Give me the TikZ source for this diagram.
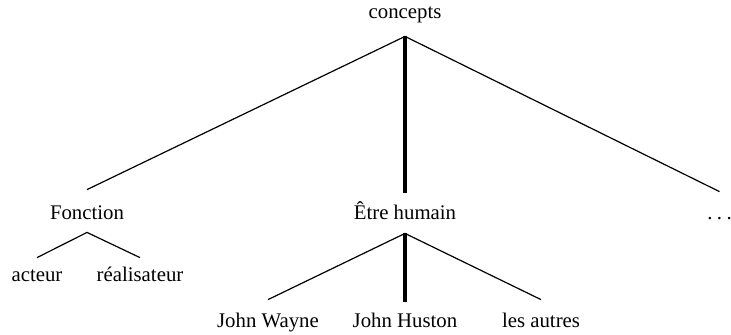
\documentclass[tikz,border=0pt]{standalone}
\usepackage{fontspec}
\setmainfont{Liberation Serif}

\begin{document}
\begin{tikzpicture}[x=.5pt,y=-.5pt,
  lbl/.style={anchor=base,inner sep=0pt,text height=7pt,text depth=2pt,
    font=\fontsize{10.4}{12}\selectfont},
  branch/.style={line width=.6pt},
  trunk/.style={line width=1.6pt}]
\useasboundingbox (0,0) rectangle (731,334);
\node[lbl] (concepts) at (405,18) {concepts};
\node[lbl] (fonction) at (87,219) {Fonction};
\node[lbl] (humain) at (405,219) {Être humain};
\node[lbl] (etc) at (719.5,219) {.\kern2.2pt.\kern2.2pt.};
\node[lbl] (acteur) at (37,281) {acteur};
\node[lbl] (real) at (140,281) {réalisateur};
\node[lbl] (wayne) at (268,327) {John Wayne};
\node[lbl] (huston) at (405,327) {John Huston};
\node[lbl] (autres) at (541,327) {les autres};

\draw[branch] ([yshift=-7pt]concepts.south) -- ([yshift=7.5pt]fonction.north);
\draw[trunk] ([yshift=-7pt]concepts.south) -- ([yshift=6pt]humain.north);
\draw[branch] ([yshift=-7pt]concepts.south) -- ([yshift=6.5pt]etc.north);
\foreach \c in {acteur,real}{
  \draw[branch] ([yshift=-4.5pt]fonction.south) -- ([yshift=4.5pt]\c.north);
}
\draw[branch] ([yshift=-5pt]humain.south) -- ([yshift=6.5pt]wayne.north);
\draw[trunk] ([yshift=-5pt]humain.south) -- ([yshift=5.5pt]huston.north);
\draw[branch] ([yshift=-5pt]humain.south) -- ([yshift=6.5pt]autres.north);
\end{tikzpicture}
\end{document}
